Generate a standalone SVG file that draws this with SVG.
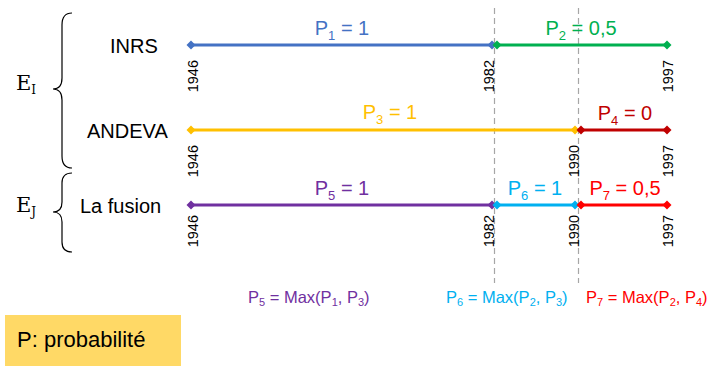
<svg xmlns="http://www.w3.org/2000/svg" xmlns:xlink="http://www.w3.org/1999/xlink" width="714" height="367" viewBox="0 0 714 367">
<style>
.lbl{font-family:"Liberation Sans",Arial,sans-serif;font-size:20px}
.yr{font-family:"Liberation Sans",Arial,sans-serif;font-size:14.5px;fill:#000}
.frm{font-family:"Liberation Sans",Arial,sans-serif;font-size:16.5px}
.seg{stroke-width:3;fill:none}
.dash{stroke:#a6a6a6;stroke-width:1.2;stroke-dasharray:6,4;fill:none}
.brace{stroke:#000;stroke-width:1.2;fill:none}
.ent{font-family:"Liberation Sans",Arial,sans-serif;font-size:20px;fill:#000}
.math{font-family:"DejaVu Serif",serif;fill:#000}
</style>
<defs>
<path id="d" d="M-4.5,0 L0,-4.5 L4.5,0 L0,4.5Z"/>
</defs>
<rect width="714" height="367" fill="#fff"/>

<g id="guides">
<line class="dash" x1="494.5" y1="8" x2="494.5" y2="283"/>
<line class="dash" x1="578.5" y1="8" x2="578.5" y2="283"/>
</g>

<g id="braces">
<path class="brace" d="M72,13 Q62,13 62,25 L62,78 Q62,89 53,89 Q62,89 62,100 L62,156 Q62,168 72,168"/>
<path class="brace" d="M72,173 Q62,173 62,183 L62,202 Q62,212 53,212 Q62,212 62,222 L62,242 Q62,252 72,252"/>
<text class="math" x="16" y="90" font-size="21">E<tspan font-size="12" dy="4">I</tspan></text>
<text class="math" x="16" y="212" font-size="21">E<tspan font-size="12" dy="4">J</tspan></text>
</g>

<g id="entities">
<text class="ent" x="110" y="53">INRS</text>
<text class="ent" x="87" y="138">ANDEVA</text>
<text class="ent" x="80" y="213">La fusion</text>
</g>

<g id="connectors">
<line class="seg" stroke="#4472C4" x1="191" y1="45" x2="492" y2="45"/>
<use href="#d" x="191" y="45" fill="#4472C4"/><use href="#d" x="492" y="45" fill="#4472C4"/>
<line class="seg" stroke="#00B050" x1="497" y1="45" x2="667" y2="45"/>
<use href="#d" x="497" y="45" fill="#00B050"/><use href="#d" x="667" y="45" fill="#00B050"/>
<line class="seg" stroke="#FFC000" x1="191" y1="130" x2="575" y2="130"/>
<use href="#d" x="191" y="130" fill="#FFC000"/><use href="#d" x="575" y="130" fill="#FFC000"/>
<line class="seg" stroke="#C00000" x1="581" y1="130" x2="667" y2="130"/>
<use href="#d" x="581" y="130" fill="#C00000"/><use href="#d" x="667" y="130" fill="#C00000"/>
<line class="seg" stroke="#7030A0" x1="191" y1="205" x2="492" y2="205"/>
<use href="#d" x="191" y="205" fill="#7030A0"/><use href="#d" x="492" y="205" fill="#7030A0"/>
<line class="seg" stroke="#00B0F0" x1="497" y1="205" x2="575" y2="205"/>
<use href="#d" x="497" y="205" fill="#00B0F0"/><use href="#d" x="575" y="205" fill="#00B0F0"/>
<line class="seg" stroke="#FF0000" x1="581" y1="205" x2="667" y2="205"/>
<use href="#d" x="581" y="205" fill="#FF0000"/><use href="#d" x="667" y="205" fill="#FF0000"/>
</g>

<g id="segment-labels">
<text class="lbl" x="342" y="35" text-anchor="middle" fill="#4472C4">P<tspan font-size="13" dy="5">1</tspan><tspan dy="-5"> = 1</tspan></text>
<text class="lbl" x="581" y="35" text-anchor="middle" fill="#00B050">P<tspan font-size="13" dy="5">2</tspan><tspan dy="-5"> = 0,5</tspan></text>
<text class="lbl" x="390" y="119" text-anchor="middle" fill="#FFC000">P<tspan font-size="13" dy="5">3</tspan><tspan dy="-5"> = 1</tspan></text>
<text class="lbl" x="625" y="120" text-anchor="middle" fill="#C00000">P<tspan font-size="13" dy="5">4</tspan><tspan dy="-5"> = 0</tspan></text>
<text class="lbl" x="342" y="195" text-anchor="middle" fill="#7030A0">P<tspan font-size="13" dy="5">5</tspan><tspan dy="-5"> = 1</tspan></text>
<text class="lbl" x="535" y="195" text-anchor="middle" fill="#00B0F0">P<tspan font-size="13" dy="5">6</tspan><tspan dy="-5"> = 1</tspan></text>
<text class="lbl" x="625" y="195" text-anchor="middle" fill="#FF0000">P<tspan font-size="13" dy="5">7</tspan><tspan dy="-5"> = 0,5</tspan></text>
</g>

<g id="years">
<text class="yr" transform="translate(197.5,60) rotate(-90)" text-anchor="end">1946</text>
<text class="yr" transform="translate(494,60) rotate(-90)" text-anchor="end">1982</text>
<text class="yr" transform="translate(673,60) rotate(-90)" text-anchor="end">1997</text>
<text class="yr" transform="translate(197.5,145) rotate(-90)" text-anchor="end">1946</text>
<text class="yr" transform="translate(579,145) rotate(-90)" text-anchor="end">1990</text>
<text class="yr" transform="translate(673,145) rotate(-90)" text-anchor="end">1997</text>
<text class="yr" transform="translate(197.5,215) rotate(-90)" text-anchor="end">1946</text>
<text class="yr" transform="translate(494,215) rotate(-90)" text-anchor="end">1982</text>
<text class="yr" transform="translate(579,215) rotate(-90)" text-anchor="end">1990</text>
<text class="yr" transform="translate(673,215) rotate(-90)" text-anchor="end">1997</text>
</g>

<g id="formulas">
<text class="frm" x="248" y="303" fill="#7030A0">P<tspan font-size="11" dy="3">5</tspan><tspan dy="-3"> = Max(P</tspan><tspan font-size="11" dy="3">1</tspan><tspan dy="-3">, P</tspan><tspan font-size="11" dy="3">3</tspan><tspan dy="-3">)</tspan></text>
<text class="frm" x="446" y="303" fill="#00B0F0">P<tspan font-size="11" dy="3">6</tspan><tspan dy="-3"> = Max(P</tspan><tspan font-size="11" dy="3">2</tspan><tspan dy="-3">, P</tspan><tspan font-size="11" dy="3">3</tspan><tspan dy="-3">)</tspan></text>
<text class="frm" x="586" y="303" fill="#FF0000">P<tspan font-size="11" dy="3">7</tspan><tspan dy="-3"> = Max(P</tspan><tspan font-size="11" dy="3">2</tspan><tspan dy="-3">, P</tspan><tspan font-size="11" dy="3">4</tspan><tspan dy="-3">)</tspan></text>
</g>

<g id="legend">
<rect x="5" y="315" width="176" height="51" fill="#FFD966"/>
<text x="17" y="347" font-family="'Liberation Sans',Arial,sans-serif" font-size="22" fill="#000">P: probabilité</text>
</g>
</svg>
